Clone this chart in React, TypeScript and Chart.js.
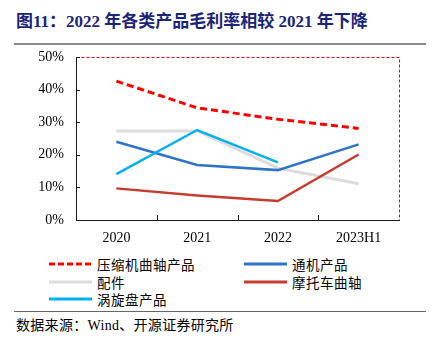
import React, { useEffect, useRef } from "react";
import { Chart, registerables } from "chart.js";

Chart.register(...registerables);

const categories = ["2020", "2021", "2022", "2023H1"];
const compressorCrankshaft = [42.6, 34.4, 30.9, 28.1];
const generalMachinery = [24.0, 16.9, 15.3, 23.2];
const parts = [27.3, 27.3, 15.9, 11.1];
const motorcycleCrankshaft = [9.7, 7.5, 5.8, 20.1];
const scrollPlate: (number | null)[] = [14.1, 27.6, 17.7, null];
const seriesNames = ["压缩机曲轴产品", "通机产品", "配件", "摩托车曲轴", "涡旋盘产品"];
const yMin = 0;
const yMax = 50;
const yStep = 10;

const SERIF = '"Liberation Serif", "Noto Sans CJK SC", serif';

const seriesStyles = [
  { color: "#FF0000", width: 3, dash: [7, 4], order: 1 },
  { color: "#2F74C6", width: 2.5, dash: [] as number[], order: 3 },
  { color: "#DCDCDC", width: 3, dash: [] as number[], order: 4 },
  { color: "#C43D2E", width: 2.5, dash: [] as number[], order: 2 },
  { color: "#00B0F0", width: 2.5, dash: [] as number[], order: 0 },
];

const seriesValues = [compressorCrankshaft, generalMachinery, parts, motorcycleCrankshaft, scrollPlate];

const framePlugin = {
  id: "frame",
  beforeDatasetsDraw(chart: any) {
    const { ctx, chartArea: a, scales } = chart;
    ctx.save();
    ctx.strokeStyle = "#FF0000";
    ctx.lineWidth = 1;
    ctx.setLineDash([3, 2]);
    ctx.strokeRect(a.left + 0.5, a.top + 0.5, a.right - a.left, a.bottom - a.top);
    ctx.setLineDash([]);
    ctx.strokeStyle = "#1a1a1a";
    ctx.beginPath();
    ctx.moveTo(a.left + 0.5, a.top);
    ctx.lineTo(a.left + 0.5, a.bottom + 0.5);
    ctx.lineTo(a.right + 1, a.bottom + 0.5);
    const y = scales.y;
    y.ticks.forEach((t: any) => {
      const py = Math.round(y.getPixelForValue(t.value)) + 0.5;
      ctx.moveTo(a.left, py);
      ctx.lineTo(a.left + 4, py);
    });
    const x = scales.x;
    for (let i = 0; i < categories.length - 1; i++) {
      const px = Math.round((x.getPixelForValue(i) + x.getPixelForValue(i + 1)) / 2) + 0.5;
      ctx.moveTo(px, a.bottom);
      ctx.lineTo(px, a.bottom - 5);
    }
    ctx.stroke();
    ctx.restore();
  },
};

function LegendSample({ color, width, dash }: { color: string; width: number; dash: number[] }) {
  return (
    <svg width={43} height={6} style={{ display: "block" }}>
      <line
        x1={0}
        y1={3}
        x2={43}
        y2={3}
        stroke={color}
        strokeWidth={width}
        strokeDasharray={dash.length ? dash.join(",") : undefined}
      />
    </svg>
  );
}

export default function App() {
  const canvasRef = useRef<HTMLCanvasElement | null>(null);

  useEffect(() => {
    document.body.style.margin = "0";
    const canvas = canvasRef.current;
    if (!canvas) return;
    const chart = new Chart(canvas, {
      type: "line",
      data: {
        labels: categories,
        datasets: seriesNames.map((name, i) => ({
          label: name,
          data: seriesValues[i],
          borderColor: seriesStyles[i].color,
          backgroundColor: seriesStyles[i].color,
          borderWidth: seriesStyles[i].width,
          borderDash: seriesStyles[i].dash,
          pointRadius: 0,
          pointHoverRadius: 0,
          tension: 0,
          fill: false,
          spanGaps: false,
          order: seriesStyles[i].order,
        })),
      },
      options: {
        responsive: false,
        animation: false,
        layout: { padding: { top: 57, right: 42, left: 0, bottom: 0 } },
        plugins: { legend: { display: false }, tooltip: { enabled: false }, title: { display: false } },
        scales: {
          x: {
            type: "category",
            offset: true,
            grid: { display: false, drawTicks: false },
            border: { display: false },
            ticks: { color: "#000", font: { family: SERIF, size: 14 }, padding: 10 },
            afterFit: (s: any) => {
              s.height = 30;
            },
          },
          y: {
            min: yMin,
            max: yMax,
            grid: { display: false, drawTicks: false },
            border: { display: false },
            ticks: {
              stepSize: yStep,
              color: "#000",
              font: { family: SERIF, size: 14 },
              padding: 12,
              callback: (v: any) => `${v}%`,
            },
            afterFit: (s: any) => {
              s.width = 76;
            },
          },
        },
      },
      plugins: [framePlugin],
    });
    return () => chart.destroy();
  }, []);

  const legendRows = [264, 281.5, 299];
  const legendCols = [49, 244];

  return (
    <div style={{ position: "relative", width: 441, height: 339, background: "#fff", overflow: "hidden", fontFamily: SERIF }}>
      <div
        style={{
          position: "absolute",
          left: 16,
          top: 12,
          fontSize: 17,
          fontWeight: "bold",
          color: "#1B2477",
          whiteSpace: "nowrap",
          lineHeight: "20px",
        }}
      >
        图11：2022 年各类产品毛利率相较 2021 年下降
      </div>
      <div style={{ position: "absolute", left: 14, top: 43, width: 412, height: 1.5, background: "#8c8c8c" }} />
      <canvas ref={canvasRef} width={441} height={250} style={{ position: "absolute", left: 0, top: 0, width: 441, height: 250 }} />
      {seriesNames.map((name, i) => {
        const col = i % 2;
        const row = Math.floor(i / 2);
        const cy = legendRows[row];
        return (
          <div
            key={name}
            style={{
              position: "absolute",
              left: legendCols[col],
              top: cy - 10,
              height: 20,
              display: "flex",
              alignItems: "center",
              whiteSpace: "nowrap",
            }}
          >
            <LegendSample color={seriesStyles[i].color} width={3} dash={seriesStyles[i].dash.length ? [6, 3] : []} />
            <span style={{ marginLeft: 5, fontSize: 13.5, color: "#000", letterSpacing: 0.5 }}>{name}</span>
          </div>
        );
      })}
      <div style={{ position: "absolute", left: 14, top: 311, width: 412, height: 1, background: "#666" }} />
      <div
        style={{
          position: "absolute",
          left: 16,
          top: 317,
          fontSize: 14,
          color: "#000",
          whiteSpace: "nowrap",
          lineHeight: "18px",
          letterSpacing: 0.3,
        }}
      >
        数据来源：Wind、开源证券研究所
      </div>
    </div>
  );
}
